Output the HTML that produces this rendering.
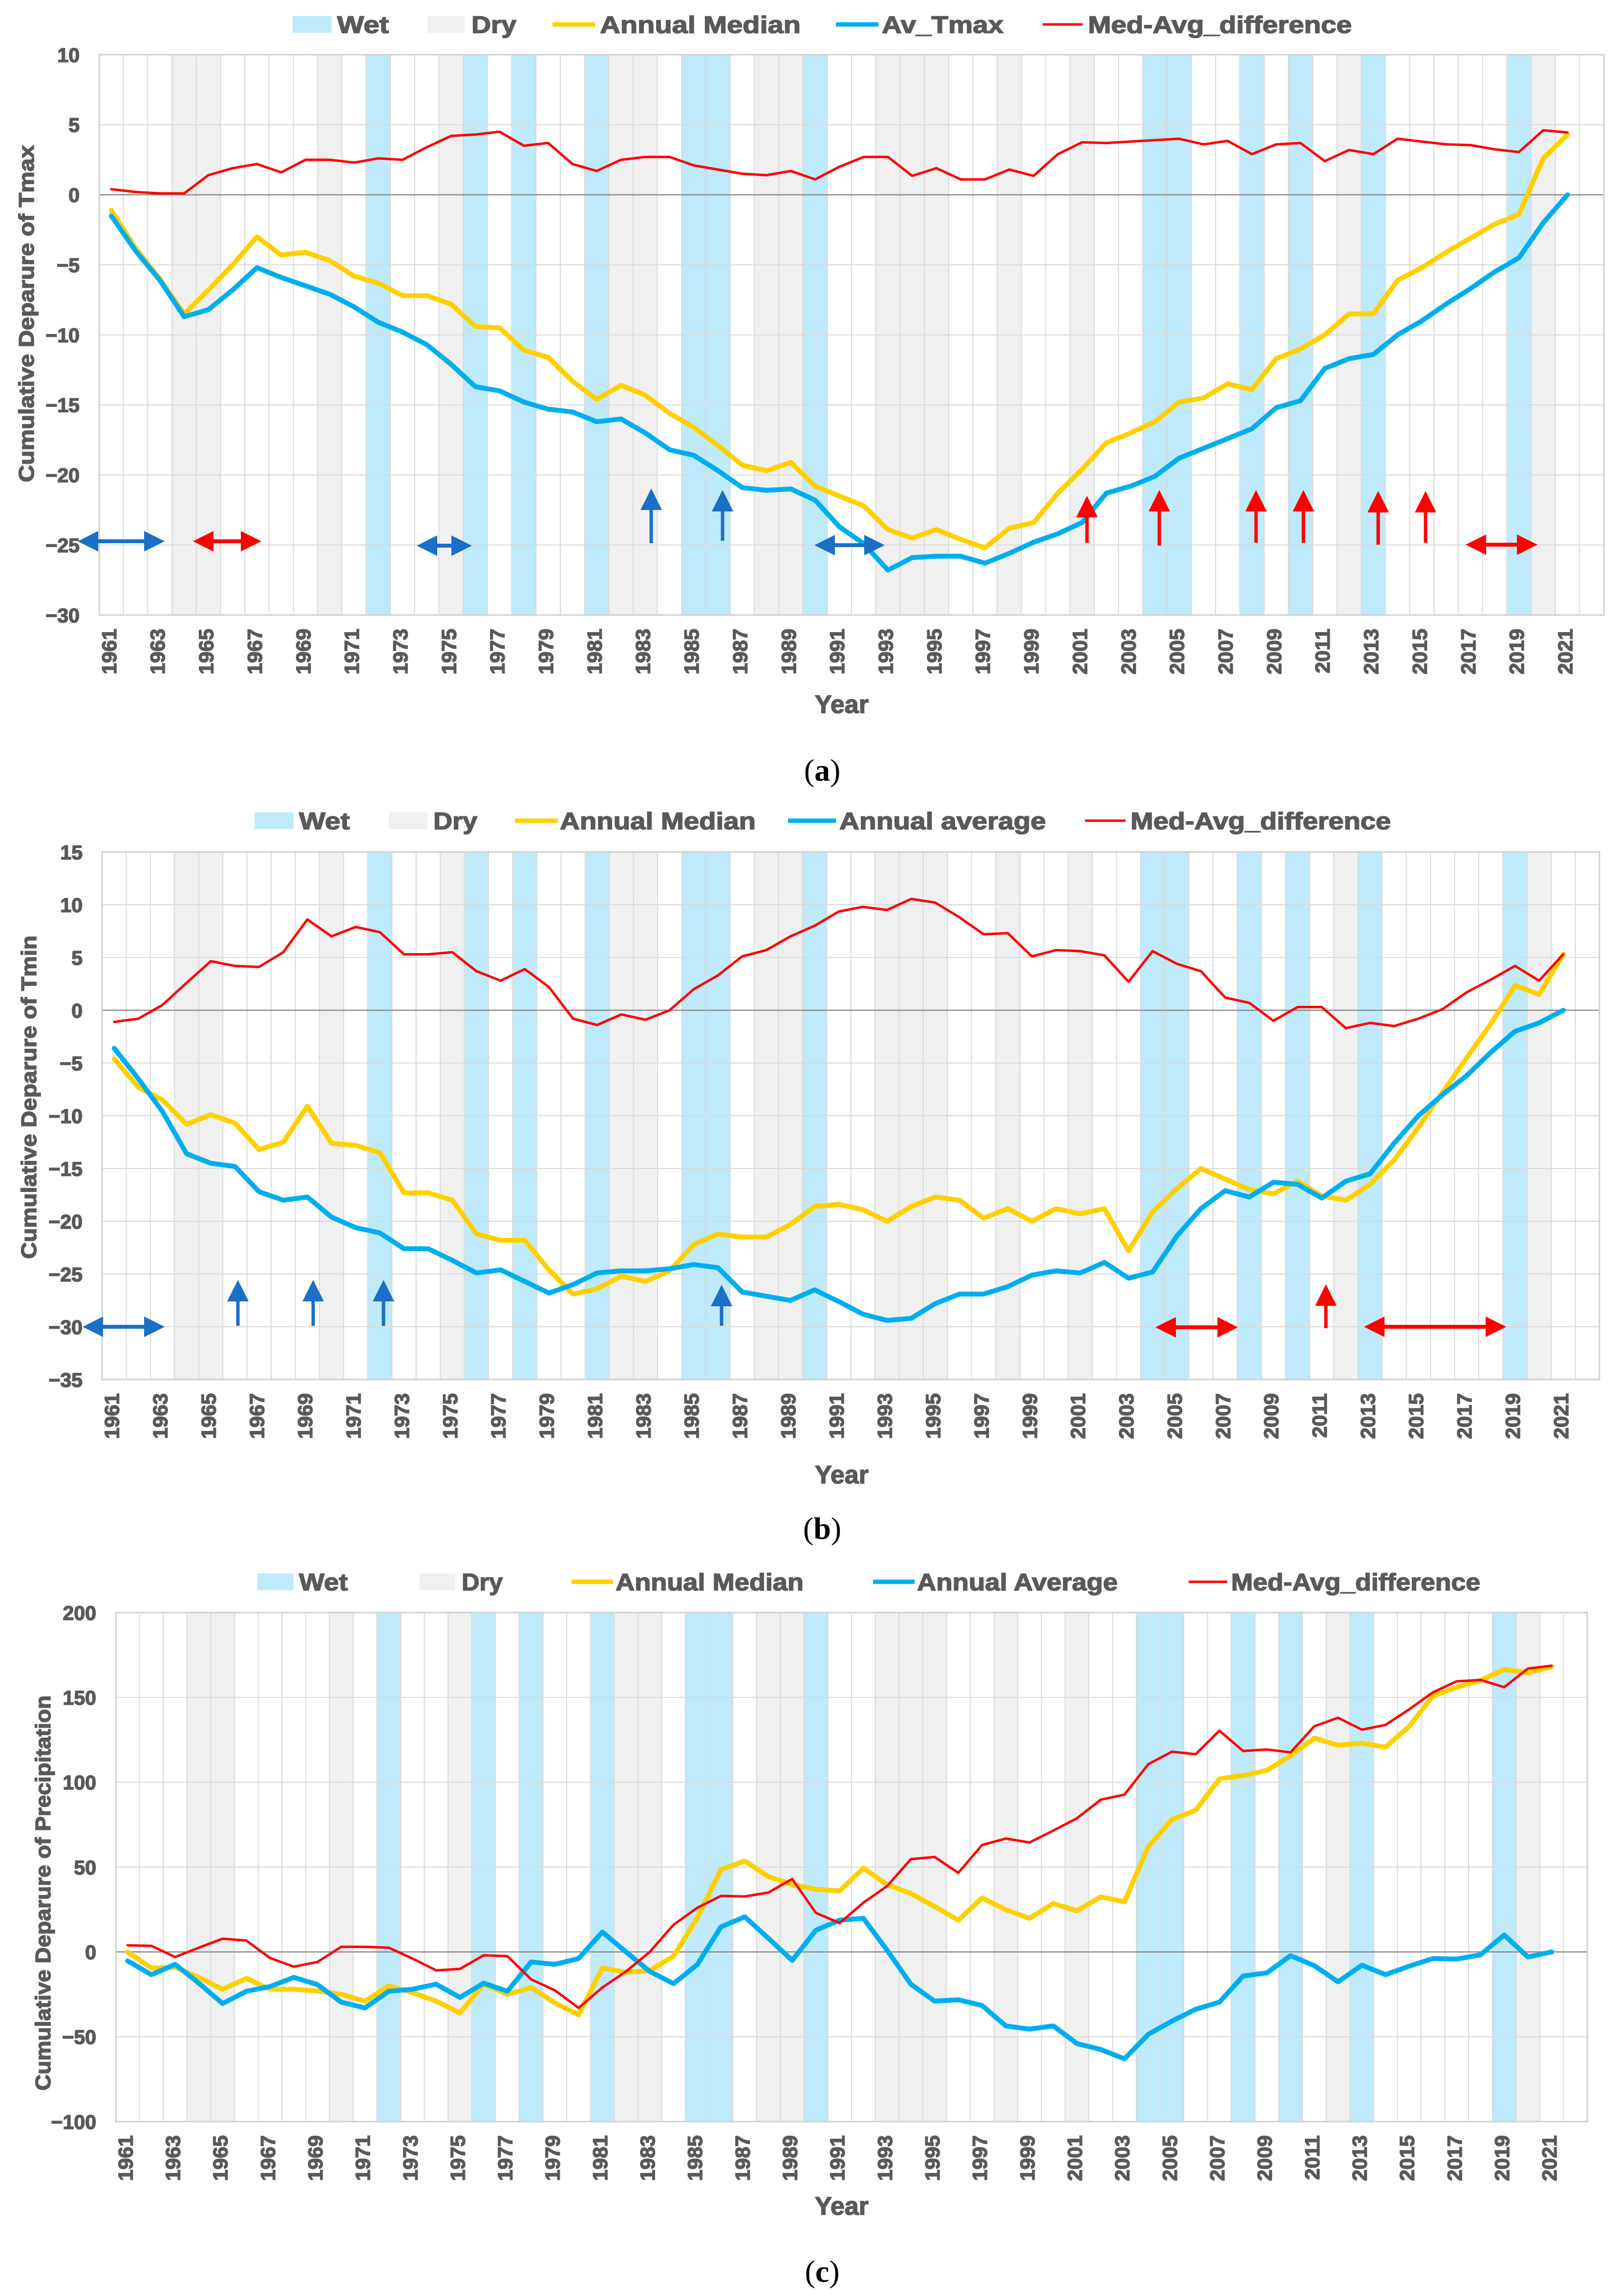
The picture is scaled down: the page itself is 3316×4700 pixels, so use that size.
<!DOCTYPE html>
<html><head><meta charset="utf-8"><style>
html,body{margin:0;padding:0;background:#fff;}
svg{display:block;}
text{font-family:"Liberation Sans",Arial,sans-serif;font-weight:bold;fill:#595959;stroke:#595959;stroke-width:1.6px;}
.cap{font-family:"Liberation Serif",serif;font-weight:normal;fill:#000;stroke:none;}
</style></head><body>
<svg id="fig" xmlns="http://www.w3.org/2000/svg" width="3316" height="4700" viewBox="0 0 3316 4700"></svg>
<script>
const years = [];
for (let y = 1961; y <= 2022; y++) years.push(y);
const wetYears = [1972,1976,1978,1981,1985,1986,1990,2004,2005,2008,2010,2013,2019];
const dryYears = [1964,1965,1970,1975,1982,1983,1988,1989,1993,1994,1995,1998,2001,2012,2020];

const tmaxMedian = [-1.1,-3.8,-6,-8.5,-6.8,-5,-3,-4.3,-4.1,-4.7,-5.8,-6.3,-7.2,-7.2,-7.8,-9.4,-9.5,-11.1,-11.6,-13.3,-14.6,-13.6,-14.3,-15.6,-16.6,-17.9,-19.3,-19.7,-19.1,-20.8,-21.5,-22.2,-23.9,-24.5,-23.9,-24.6,-25.2,-23.8,-23.4,-21.3,-19.6,-17.7,-17,-16.2,-14.8,-14.5,-13.5,-13.9,-11.7,-11,-10,-8.5,-8.5,-6.1,-5.2,-4.1,-3.1,-2.1,-1.4,2.6,4.3];
const tmaxAvg = [-1.5,-4,-6.1,-8.7,-8.2,-6.8,-5.2,-5.9,-6.5,-7.1,-8,-9.1,-9.8,-10.7,-12.1,-13.7,-14,-14.8,-15.3,-15.5,-16.2,-16,-17,-18.2,-18.6,-19.7,-20.9,-21.1,-21,-21.8,-23.7,-24.9,-26.8,-25.9,-25.8,-25.8,-26.3,-25.6,-24.8,-24.2,-23.4,-21.3,-20.8,-20.1,-18.8,-18.1,-17.4,-16.7,-15.2,-14.7,-12.4,-11.7,-11.4,-10,-9,-7.8,-6.7,-5.5,-4.5,-2,0];
const tmaxDiff = [0.4,0.2,0.1,0.1,1.4,1.9,2.2,1.6,2.5,2.5,2.3,2.6,2.5,3.4,4.2,4.3,4.5,3.5,3.7,2.2,1.7,2.5,2.7,2.7,2.1,1.8,1.5,1.4,1.7,1.1,2.0,2.7,2.7,1.35,1.9,1.1,1.1,1.8,1.35,2.9,3.75,3.7,3.8,3.9,4,3.6,3.85,2.9,3.6,3.7,2.4,3.2,2.9,4,3.8,3.6,3.55,3.25,3.05,4.6,4.45];

const tminMedian = [-4.6,-7.3,-8.5,-10.8,-9.9,-10.7,-13.2,-12.5,-9.1,-12.6,-12.8,-13.5,-17.3,-17.3,-18,-21.2,-21.8,-21.8,-24.6,-26.9,-26.4,-25.2,-25.7,-24.7,-22.2,-21.2,-21.5,-21.5,-20.3,-18.6,-18.4,-18.9,-20,-18.6,-17.7,-18,-19.7,-18.8,-20,-18.8,-19.3,-18.8,-22.8,-19.1,-16.9,-15,-16,-17,-17.4,-16.2,-17.6,-18,-16.5,-14.2,-11.1,-7.8,-4.5,-1.3,2.35,1.5,5.3];
const tminAvg = [-3.6,-6.5,-9.6,-13.6,-14.5,-14.8,-17.2,-18,-17.7,-19.6,-20.6,-21.1,-22.6,-22.6,-23.7,-24.9,-24.6,-25.7,-26.8,-26,-24.9,-24.7,-24.7,-24.5,-24.1,-24.4,-26.7,-27.1,-27.5,-26.5,-27.6,-28.8,-29.4,-29.2,-27.8,-26.9,-26.9,-26.2,-25.1,-24.7,-24.9,-23.9,-25.4,-24.8,-21.4,-18.8,-17.1,-17.7,-16.3,-16.5,-17.8,-16.2,-15.5,-12.6,-10,-8,-6.2,-4,-2,-1.2,0];
const tminDiff = [-1.1,-0.8,0.5,2.6,4.65,4.2,4.1,5.5,8.6,7,7.9,7.4,5.3,5.3,5.5,3.7,2.8,3.9,2.2,-0.8,-1.4,-0.4,-0.9,0,2,3.3,5.1,5.7,7,8,9.35,9.8,9.5,10.55,10.2,8.8,7.2,7.3,5.1,5.7,5.6,5.2,2.7,5.6,4.4,3.7,1.2,0.7,-1,0.3,0.3,-1.7,-1.2,-1.5,-0.8,0.1,1.7,2.9,4.2,2.8,5.3];

const precMedian = [0,-9.5,-9,-15,-22,-15.6,-22,-22,-23,-25,-29,-20,-24,-29,-36,-19,-25,-21,-30,-37,-9.5,-12,-11,-2.5,20,48.6,53.6,44.4,39.7,36.9,36,49.4,39.7,34.4,26.8,18.7,31.8,24.9,19.8,28.5,24.3,32.4,29.6,62,78,83.5,102,104,107,115.6,126,121.8,123,120.7,133,151,156,160,166.5,164.5,168];
const precAvg = [-5.3,-13.4,-7.3,-18.4,-30.4,-23.2,-20.4,-15,-19.3,-29.6,-33,-23.2,-22,-19,-26.8,-18.4,-23.2,-5.9,-7.3,-3.9,11.7,0,-11.5,-18.7,-7.5,14.8,20.7,8,-5,12.8,18.7,19.8,1,-19,-29,-28.2,-31.6,-43.6,-45.5,-43.6,-54,-57.5,-63,-48.6,-40.8,-33.8,-29.6,-14.2,-12.3,-2.2,-8.1,-17.6,-7.8,-13.4,-8.4,-3.9,-4.2,-1.7,10,-3,0];
const precDiff = [3.9,3.6,-3,2.5,7.8,6.7,-3.6,-8.7,-5.9,3,3,2.5,-3.9,-10.9,-10,-2,-2.5,-16.2,-22.6,-33,-21,-11.5,0,16,26,33,32.7,35,43,23,17,29,38.8,54.7,56,46.6,63,66.8,64.5,71.5,78.8,89.7,92.7,110.6,118,116.5,130.4,118.4,119.3,117.6,133,138,131,133.8,143,153,159.5,160.3,156,167,168.7];

const ticksA = [10,5,0,-5,-10,-15,-20,-25,-30];
const ticksB = [15,10,5,0,-5,-10,-15,-20,-25,-30,-35];
const ticksC = [200,150,100,50,0,-50,-100];

const NS = "http://www.w3.org/2000/svg";
const svg = document.getElementById('fig');
function mk(tag, attrs, parent) {
  const e = document.createElementNS(NS, tag);
  for (const k in attrs) e.setAttribute(k, attrs[k]);
  (parent || svg).appendChild(e);
  return e;
}
const COL = {wet:'#bfeafb', dry:'#f0f0f0', med:'#ffd000', avg:'#00aef0', diff:'#ff0000', blueArrow:'#1b6fc6', grid:'#d9d9d9'};

function arrowUp(g, x, yb, yt, color) {
  const s = mk('line', {x1:x, y1:yb, x2:x, y2:yt+30, stroke:color, 'stroke-width':7}, g);
  
  
  const h = mk('polygon', {points:`${x-22},${yt+44} ${x+22},${yt+44} ${x},${yt}`, fill:color}, g);
  
  
}
function arrowDbl(g, x1, x2, y, color) {
  const s = mk('line', {x1:x1+30, y1:y, x2:x2-30, y2:y, stroke:color, 'stroke-width':8}, g);
  
  
  const h1 = mk('polygon', {points:`${x1},${y} ${x1+42},${y-21} ${x1+42},${y+21}`, fill:color}, g);
  
  
  const h2 = mk('polygon', {points:`${x2},${y} ${x2-42},${y-21} ${x2-42},${y+21}`, fill:color}, g);
  
  
}

function panel(cfg) {
  const g = mk('g', {});
  
  
  const L = cfg.left, R = cfg.right, T = cfg.top, B = cfg.bottom;
  const w = (R - L) / years.length;
  const yS = v => T + (cfg.ymax - v) / (cfg.ymax - cfg.ymin) * (B - T);
  const xC = i => L + (i + 0.5) * w;
  years.forEach((yr, i) => {
    let c = null, nm = null;
    if (wetYears.includes(yr)) { c = COL.wet; nm = 'wet-band-' + yr; }
    else if (dryYears.includes(yr)) { c = COL.dry; nm = 'dry-band-' + yr; }
    if (c) {
      const r = mk('rect', {x:L + i*w, y:T, width:w+0.5, height:B-T, fill:c}, g);
      
      
    }
  });
  for (let i = 1; i < years.length; i++) {
    const l = mk('line', {x1:L+i*w, y1:T, x2:L+i*w, y2:B, stroke:COL.grid, 'stroke-width':2}, g);
    
    
  }
  cfg.ticks.forEach(v => {
    const y = yS(v);
    const l = mk('line', {x1:L, y1:y, x2:R, y2:y, stroke: v===0 ? '#8c8c8c' : COL.grid, 'stroke-width': v===0 ? 2.5 : 2}, g);
    
    
    const t = mk('text', {x:L-40, y:y, dy:'0.36em', 'text-anchor':'end', 'font-size':41}, g);
    t.textContent = (v < 0 ? '\u2212' + Math.abs(v) : String(v));
    
    
  });
  const fr = mk('rect', {x:L, y:T, width:R-L, height:B-T, fill:'none', stroke:'#d0d0d0', 'stroke-width':3}, g);
  
  
  years.forEach((yr, i) => {
    if (i % 2 !== 0) return;
    const x = xC(i) + 10, y = B + 28;
    const t = mk('text', {x:x, y:y, 'text-anchor':'end', 'font-size':42, transform:`rotate(-90 ${x} ${y})`}, g);
    t.textContent = yr;
    
    
  });
  const series = [[cfg.med, COL.med, 10, 'median-line'], [cfg.avg, COL.avg, 10, 'average-line'], [cfg.diff, COL.diff, 5, 'difference-line']];
  series.forEach(([arr, col, sw, nm]) => {
    const pts = arr.map((v, i) => xC(i).toFixed(1) + ',' + yS(v).toFixed(1)).join(' ');
    const p = mk('polyline', {points:pts, fill:'none', stroke:col, 'stroke-width':sw, 'stroke-linejoin':'round', 'stroke-linecap':'round'}, g);
    
    
  });
  const ly = cfg.legendY;
  const lg = mk('g', {}, g);
  
  
  cfg.legend.forEach(([x0, x1, tx, tw, label, kind]) => {
    let m;
    if (kind === 'wet' || kind === 'dry') {
      m = mk('rect', {x:x0, y:ly-17, width:x1-x0, height:34, fill: kind==='wet' ? COL.wet : COL.dry}, lg);
    } else {
      m = mk('line', {x1:x0, y1:ly, x2:x1, y2:ly, stroke:COL[kind], 'stroke-width': kind==='diff' ? 5 : 9}, lg);
    }
    
    
    const t = mk('text', {x:tx, y:ly, dy:'0.36em', 'font-size':49, textLength:tw, lengthAdjust:'spacingAndGlyphs'}, lg);
    t.textContent = label;
    
    
  });
  const yt = mk('text', {x:cfg.ytx, y:cfg.yty, 'text-anchor':'middle', dy:'0.36em', 'font-size':44, textLength:cfg.ytl, lengthAdjust:'spacingAndGlyphs', transform:`rotate(-90 ${cfg.ytx} ${cfg.yty})`}, g);
  yt.textContent = cfg.ytitle;
  
  
  const xt = mk('text', {x:1723, y:cfg.xty, 'text-anchor':'middle', dy:'0.36em', 'font-size':52}, g);
  xt.textContent = 'Year';
  
  
  const cap = mk('text', {x:1683, y:cfg.capY, 'text-anchor':'middle', dy:'0.36em', 'font-size':64, class:'cap'}, g);
  cap.innerHTML = '(<tspan font-weight="bold">' + cfg.capL + '</tspan>)';
  
  
  const ag = mk('g', {}, g);
  
  
  (cfg.ups || []).forEach(a => arrowUp(ag, a[0], a[1], a[2], a[3]));
  (cfg.dbls || []).forEach(a => arrowDbl(ag, a[0], a[1], a[2], a[3]));
}

const BA = COL.blueArrow, RA = COL.diff;
panel({name:'panel-a-tmax', left:203, right:3283, top:112, bottom:1259, ymin:-30, ymax:10, ticks:ticksA,
  med:tmaxMedian, avg:tmaxAvg, diff:tmaxDiff, legendY:50,
  legend:[[599,679,690,106,'Wet','wet'],[875,951,965,92,'Dry','dry'],[1131,1218,1228,411,'Annual Median','med'],[1711,1798,1805,249,'Av_Tmax','avg'],[2134,2216,2227,540,'Med-Avg_difference','diff']],
  ytitle:'Cumulative Deparure of Tmax', ytx:53, yty:642, ytl:690, xty:1441, capY:1575, capL:'a',
  ups:[[1333,1112,1000,BA],[1479,1107,1003,BA],[2225,1111,1015,RA],[2373,1117,1003,RA],[2571,1111,1003,RA],[2668,1111,1003,RA],[2821,1115,1005,RA],[2918,1111,1005,RA]],
  dbls:[[159,337,1108,BA],[395,535,1108,RA],[853,966,1117,BA],[1667,1811,1116,BA],[3000,3147,1115,RA]]});
panel({name:'panel-b-tmin', left:209, right:3274, top:1744, bottom:2824, ymin:-35, ymax:15, ticks:ticksB,
  med:tminMedian, avg:tminAvg, diff:tminDiff, legendY:1680,
  legend:[[521,601,612,104,'Wet','wet'],[796,875,887,90,'Dry','dry'],[1054,1142,1146,401,'Annual Median','med'],[1613,1711,1718,423,'Annual average','avg'],[2221,2304,2314,533,'Med-Avg_difference','diff']],
  ytitle:'Cumulative Deparure of Tmin', ytx:58, yty:2246, ytl:662, xty:3018, capY:3127, capL:'b',
  ups:[[487,2714,2620,BA],[641,2714,2620,BA],[785,2714,2620,BA],[1477,2714,2630,BA],[2714,2719,2629,RA]],
  dbls:[[169,337,2716,BA],[2365,2534,2717,RA],[2792,3083,2716,RA]]});
panel({name:'panel-c-precipitation', left:237, right:3249, top:3301, bottom:4343, ymin:-100, ymax:200, ticks:ticksC,
  med:precMedian, avg:precAvg, diff:precDiff, legendY:3238,
  legend:[[527,601,612,100,'Wet','wet'],[858,932,945,84,'Dry','dry'],[1170,1255,1260,385,'Annual Median','med'],[1787,1872,1877,411,'Annual Average','avg'],[2433,2512,2520,510,'Med-Avg_difference','diff']],
  ytitle:'Cumulative Deparure of Precipitation', ytx:87, yty:3875, ytl:809, xty:4515, capY:4648, capL:'c'});
</script>
</body></html>
